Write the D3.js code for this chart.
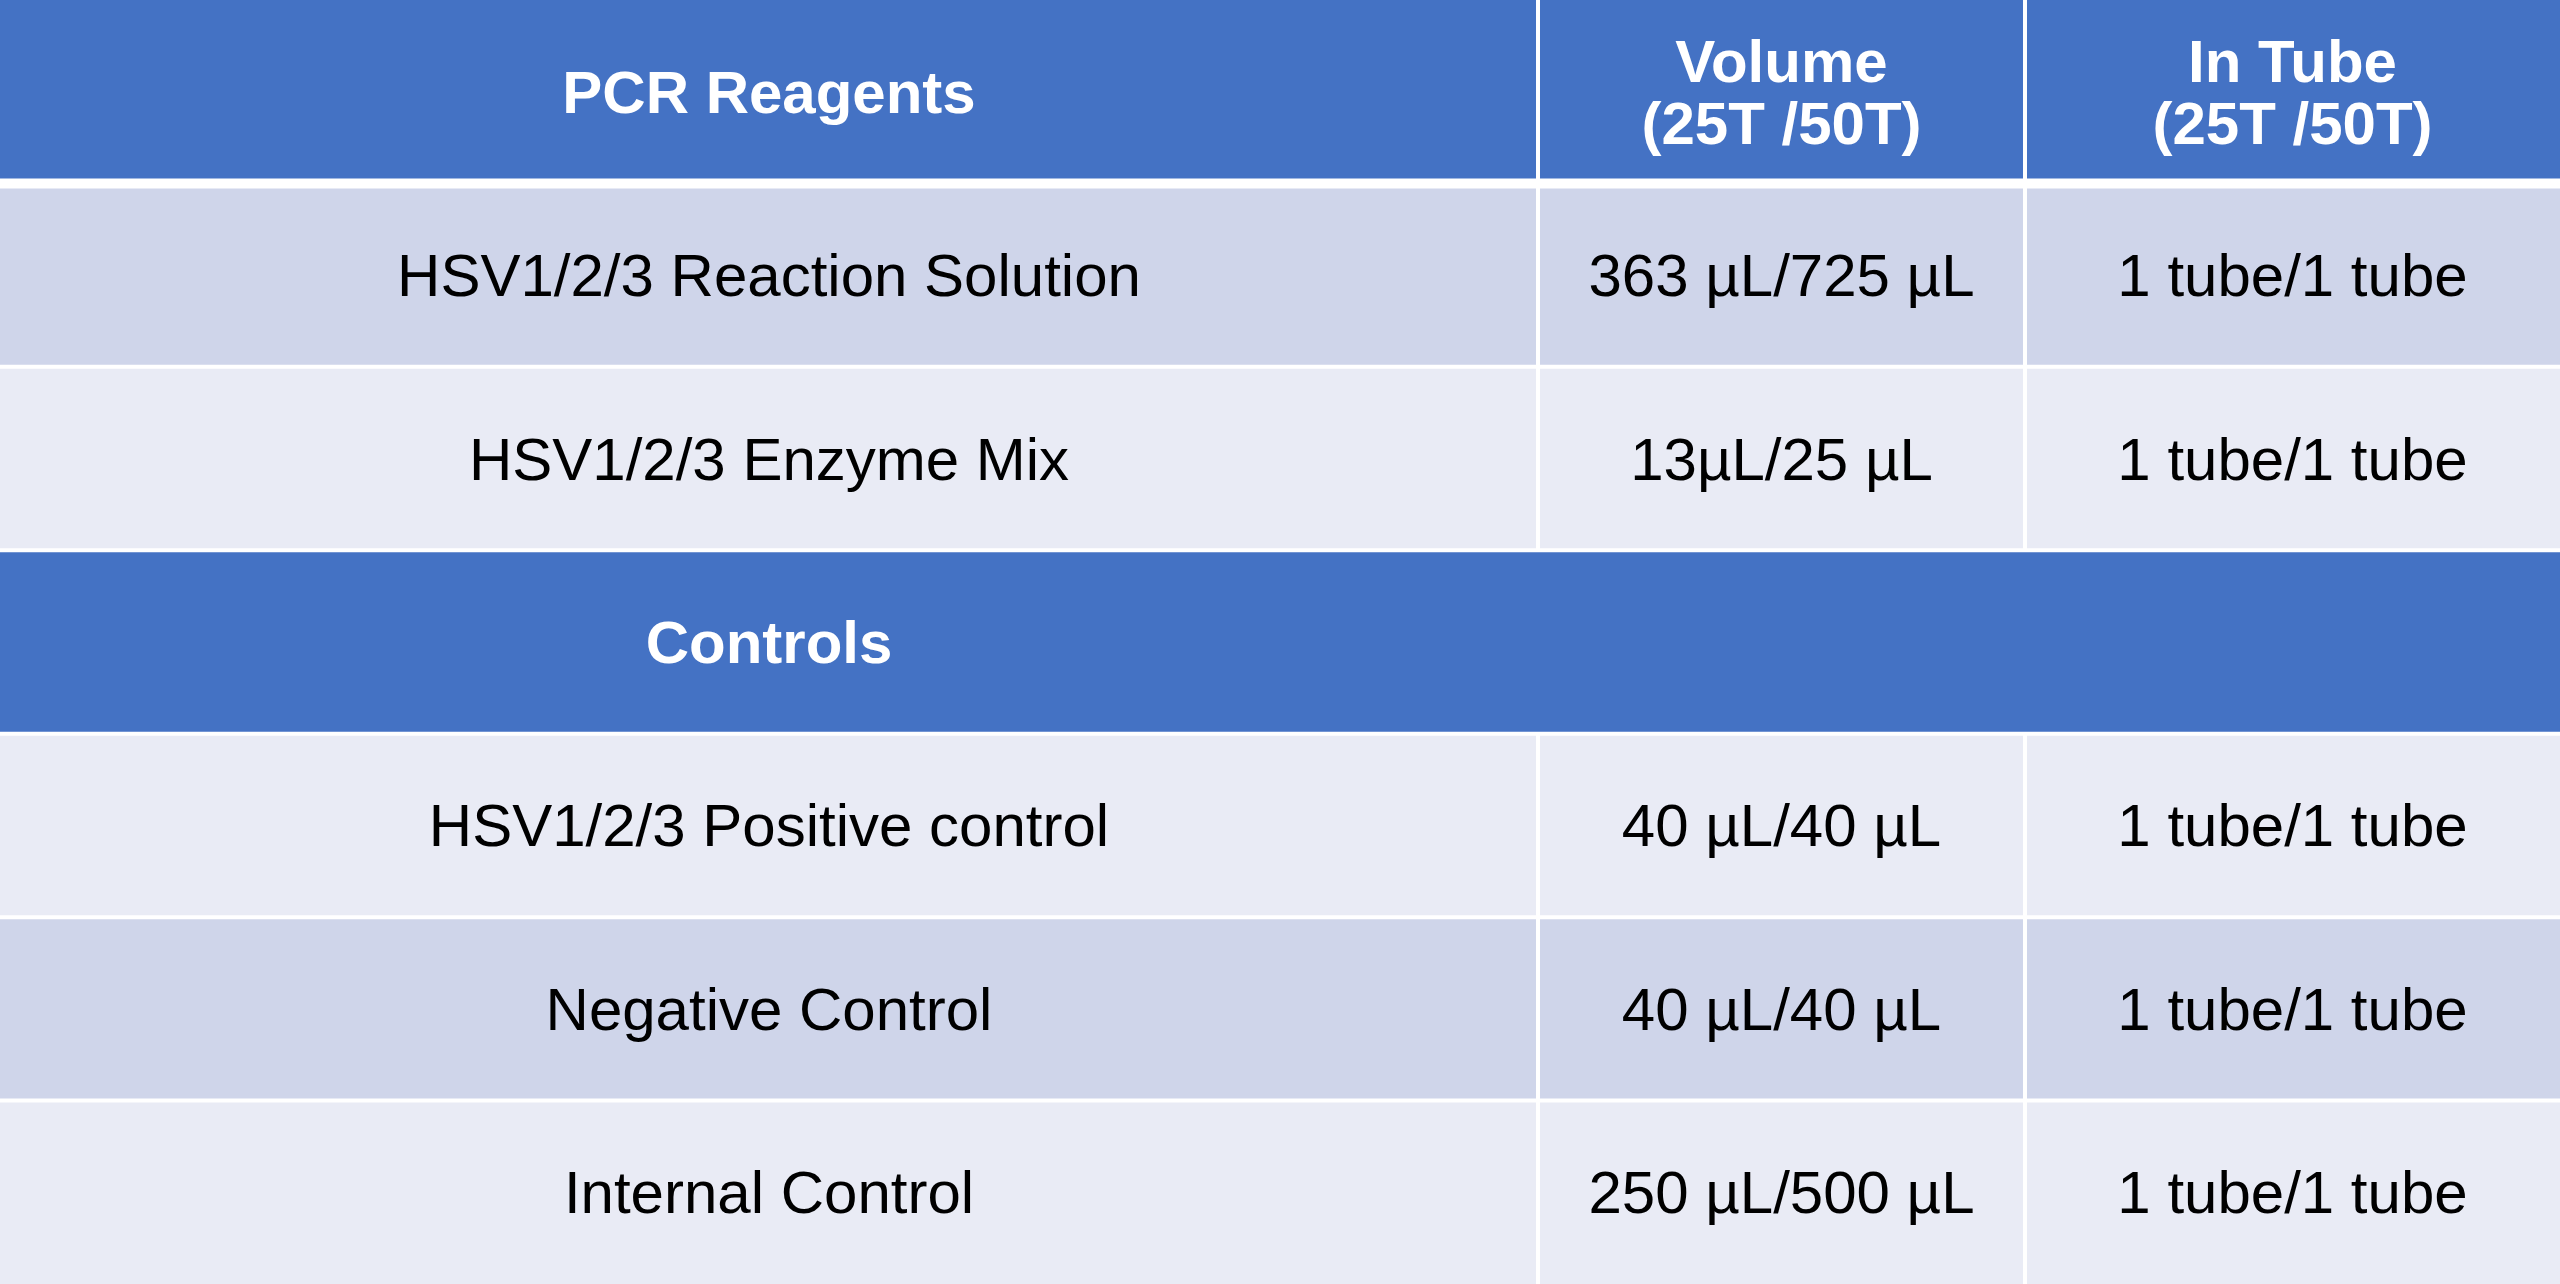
<!DOCTYPE html>
<html><head><meta charset="utf-8">
<script src="https://cdn.jsdelivr.net/npm/d3@7"></script>
<style>html,body{margin:0;padding:0;background:#fff;overflow:hidden}</style>
</head><body><svg id="c" width="2560" height="1284"></svg>
<script>
const headers = [["PCR Reagents"], ["Volume", "(25T /50T)"], ["In Tube", "(25T /50T)"]];
const rowNames = ["HSV1/2/3 Reaction Solution", "HSV1/2/3 Enzyme Mix", "Controls", "HSV1/2/3 Positive control", "Negative Control", "Internal Control"];
const volumes = ["363 µL/725 µL", "13µL/25 µL", "", "40 µL/40 µL", "40 µL/40 µL", "250 µL/500 µL"];
const inTube = ["1 tube/1 tube", "1 tube/1 tube", "", "1 tube/1 tube", "1 tube/1 tube", "1 tube/1 tube"];
const rowKinds = ["dark", "light", "section", "light", "dark", "light"];

const W = 2560, H = 1284;
const svg = d3.select("#c");
const colEdges = [0, 1538, 2025, W];
const y = d3.scaleBand().domain(d3.range(7)).range([0, H]).paddingInner(0);
const fills = {header: "#4472C4", section: "#4472C4", dark: "#CFD5EA", light: "#E9EBF5"};
const font = "'Liberation Sans', Arial, sans-serif";

function cell(r, c, kind, lines) {
  const x0 = colEdges[c], x1 = colEdges[c + 1];
  const y0 = y(r), y1 = y(r) + y.bandwidth();
  svg.append("rect").attr("x", x0).attr("y", y0).attr("width", x1 - x0).attr("height", y1 - y0)
    .attr("fill", fills[kind]);
  const bold = kind === "header" || kind === "section";
  const lh = 62;
  const cy = (y0 + y1) / 2 - (lines.length - 1) * lh / 2;
  lines.forEach((t, i) => {
    svg.append("text").attr("x", (x0 + x1) / 2).attr("y", cy + i * lh).attr("dy", "0.35em")
      .attr("text-anchor", "middle").attr("font-family", font).attr("font-size", 60)
      .attr("font-weight", bold ? "bold" : "normal").attr("fill", bold ? "#fff" : "#000").text(t);
  });
}
headers.forEach((h, c) => cell(0, c, "header", h));
rowNames.forEach((n, i) => {
  const k = rowKinds[i];
  cell(i + 1, 0, k, [n]);
  cell(i + 1, 1, k, volumes[i] ? [volumes[i]] : []);
  cell(i + 1, 2, k, inTube[i] ? [inTube[i]] : []);
});
// section row: merged, no vertical borders
// grid lines
d3.range(1, 7).forEach(r => {
  svg.append("line").attr("x1", 0).attr("x2", W).attr("y1", y(r)).attr("y2", y(r))
    .attr("stroke", "#fff").attr("stroke-width", r === 1 ? 10 : 4);
});
[1, 2].forEach(c => {
  d3.range(7).forEach(r => {
    if (rowKinds[r - 1] === "section") return;
    svg.append("line").attr("x1", colEdges[c]).attr("x2", colEdges[c])
      .attr("y1", y(r)).attr("y2", y(r) + y.bandwidth()).attr("stroke", "#fff").attr("stroke-width", 4);
  });
});
</script></body></html>
